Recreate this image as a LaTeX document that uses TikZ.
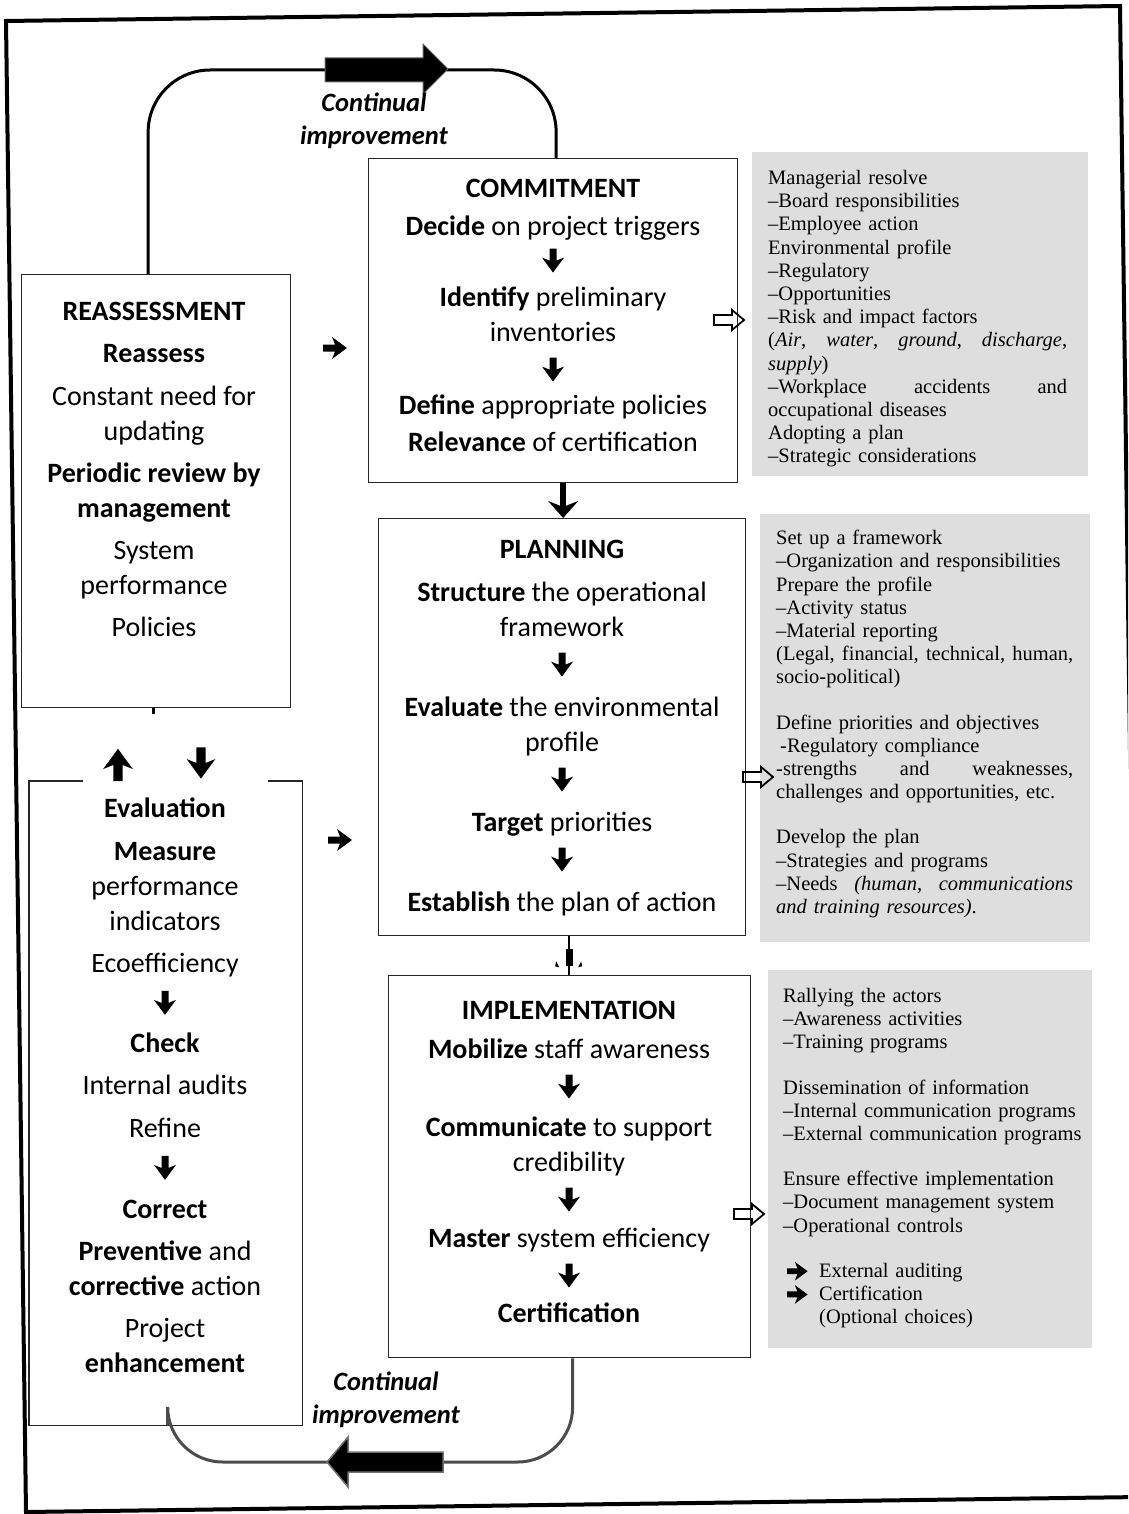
\documentclass[tikz,border=0pt]{standalone}
\usepackage{fontspec}
\usepackage{graphicx}
\setmainfont{Carlito}
\newfontfamily\greyfont{Liberation Serif}
\usetikzlibrary{calc,arrows.meta}
\setlength{\parindent}{0pt}

\tikzset{
  % heavy arrow glyphs, coordinates in pt with y pointing down
  downarrow/.pic={\fill (-3.5,-12) -- (-3.5,0) -- (-11,-3) -- (0,12) -- (11,-3) -- (3.5,0) -- (3.5,-12) -- cycle;},
  uparrow/.pic={\fill (-3.5,12) -- (-3.5,0) -- (-11,3) -- (0,-12) -- (11,3) -- (3.5,0) -- (3.5,12) -- cycle;},
  rightarrow/.pic={\fill (-12,-3.5) -- (0,-3.5) -- (-3,-11) -- (12,0) -- (-3,11) -- (0,3.5) -- (-12,3.5) -- cycle;},
  hollowarrow/.pic={\draw[line width=1.8pt, line join=miter] (-15,-5) -- (3,-5) -- (3,-10) -- (15,0) -- (3,10) -- (3,5) -- (-15,5) -- cycle;},
}

% small down arrow used inside the stage boxes
\newcommand\dn{\tikz[x=1pt,y=-1pt,baseline={(0,7)}]\pic{downarrow};}
% arrow bullet used in the implementation notes
\newcommand\bul{\makebox[36pt][l]{\hspace{4pt}\tikz[x=1pt,y=-1pt,baseline={(0,6)}]\pic[scale=0.85]{rightarrow};}}
% a fully justified single line of the given width (words separated by \hfill)
\newcommand\jline[2]{\makebox[#1][s]{#2}}

\begin{document}
\begin{tikzpicture}[x=1pt,y=-1pt,
  box/.style={draw=black!85, line width=1.3pt, inner sep=0, anchor=north west},
  boxline/.style={draw=black!85, line width=1.3pt},
  txt/.style={font=\fontsize{28}{35}\selectfont, align=center, inner sep=0, anchor=north},
  greybox/.style={fill=black!13, draw=none, inner sep=0, anchor=north west},
  gtxt/.style={font=\greyfont\fontsize{20.5}{23.2}\selectfont, align=left, inner sep=0, anchor=north west},
  looptxt/.style={font=\fontsize{26.5}{33}\selectfont\bfseries\itshape, align=center, inner sep=0},
  loopline/.style={line width=3pt},
]
\useasboundingbox (0,0) rectangle (1128,1514);
\fill[white] (0,0) rectangle (1128,1514);

% outer frame
\begin{scope}
  \clip (0,0) rectangle (1128,1514);
  \draw[line width=4pt, line join=miter] (6,21) -- (1120,6) -- (1140,1497) -- (26,1512) -- cycle;
\end{scope}

% grey note panels
\node[greybox, minimum width=336, minimum height=324] (g1) at (752,152) {};
\node[greybox, minimum width=330, minimum height=428] (g2) at (760,514) {};
\node[greybox, minimum width=324, minimum height=378] (g3) at (768,970) {};

\node[gtxt, text width=299] (g1t) at (768,170) {Managerial resolve\\
–Board responsibilities\\
–Employee action\\
Environmental profile\\
–Regulatory\\
–Opportunities\\
–Risk and impact factors\\
\jline{299pt}{(\textit{Air},\hfill\textit{water},\hfill\textit{ground},\hfill\textit{discharge},}\\
\textit{supply})\\
\jline{299pt}{–Workplace\hfill accidents\hfill and}\\
occupational diseases\\
Adopting a plan\\
–Strategic considerations};

\node[gtxt, text width=297] (g2t) at (776,530) {Set up a framework\\
–Organization and responsibilities\\
Prepare the profile\\
–Activity status\\
–Material reporting\\
\jline{297pt}{(Legal,\hfill financial,\hfill technical,\hfill human,}\\
socio-political)\\[22pt]
Define priorities and objectives\\
\hspace*{4pt}-Regulatory compliance\\
\jline{297pt}{-strengths\hfill and\hfill weaknesses,}\\
challenges and opportunities, etc.\\[22pt]
Develop the plan\\
–Strategies and programs\\
\jline{297pt}{–Needs\hfill\textit{(human,}\hfill\textit{communications}}\\
\textit{and training resources)}.};

\node[gtxt, text width=300] (g3t) at (783,988) {Rallying the actors\\
–Awareness activities\\
–Training programs\\[22pt]
Dissemination of information\\
–Internal communication programs\\
–External communication programs\\[22pt]
Ensure effective implementation\\
–Document management system\\
–Operational controls\\[22pt]
\bul External auditing\\
\bul Certification\\
\hspace*{36pt}(Optional choices)};

% stage boxes
\node[box, minimum width=369, minimum height=324] (commit) at (368,158) {};
\node[box, minimum width=367, minimum height=417] (plan) at (378,518) {};
\node[box, minimum width=362, minimum height=382] (impl) at (388,975) {};
\node[box, minimum width=269, minimum height=433] (reass) at (21,274) {};
\node[inner sep=0, anchor=north west, minimum width=273, minimum height=644] (evalbox) at (29,781) {};
\draw[boxline] ($(evalbox.north west)+(54,0)$) -- (evalbox.north west) -- (evalbox.south west)
  -- (evalbox.south east) -- (evalbox.north east) -- ++(-34,0);

\node[txt] (commitT) at (553,179) {\textbf{COMMITMENT}\\[3pt]
\textbf{Decide} on project triggers\\[-3pt]
\dn\\[4pt]
\textbf{Identify} preliminary\\
inventories\\
\dn\\[3pt]
\textbf{Define} appropriate policies\\[2pt]
\textbf{Relevance} of certification};

\node[txt] (planT) at (562,540) {\textbf{PLANNING}\\[8pt]
\textbf{Structure} the operational\\
framework\\
\dn\\[10pt]
\textbf{Evaluate} the environmental\\
profile\\
\dn\\[10pt]
\textbf{Target} priorities\\
\dn\\[10pt]
\textbf{Establish} the plan of action};

\node[txt] (implT) at (569,1001) {\textbf{IMPLEMENTATION}\\[4pt]
\textbf{Mobilize} staff awareness\\
\dn\\[8pt]
\textbf{Communicate} to support\\
credibility\\
\dn\\[6pt]
\textbf{Master} system efficiency\\
\dn\\[5pt]
\textbf{Certification}};

\node[txt] (reassT) at (154,302) {\textbf{REASSESSMENT}\\[7pt]
\textbf{Reassess}\\[8pt]
Constant need for\\
updating\\[7pt]
\textbf{Periodic review by}\\
\textbf{management}\\[7pt]
System\\
performance\\[7pt]
Policies};

\node[txt] (evalT) at (165,798) {\textbf{Evaluation}\\[8pt]
\textbf{Measure}\\
performance\\
indicators\\[7pt]
Ecoefficiency\\[2pt]
\dn\\[8pt]
\textbf{Check}\\[7pt]
Internal audits\\[8pt]
Refine\\[2pt]
\dn\\[9pt]
\textbf{Correct}\\[7pt]
\textbf{Preventive} and\\
\textbf{corrective} action\\[7pt]
Project\\
\textbf{enhancement}};

% links between consecutive stages
\draw[line width=6pt, -{Stealth[length=17pt,width=30pt,inset=6pt]}]
  ($(commit.south)+(10,0)$) -- ($(plan.north)+(1,0)$);
\draw[line width=2.2pt] ($(plan.south)+(6.5,0)$) -- ($(impl.north)+(-1,0)$);
\fill ($(plan.south)+(4,13)$) rectangle ($(plan.south)+(11,30)$);
\fill ($(plan.south)+(-6,25)$) -- ($(plan.south)+(-3,31)$) -- ($(plan.south)+(-7,30)$) -- cycle;
\fill ($(plan.south)+(19,25)$) -- ($(plan.south)+(16,31)$) -- ($(plan.south)+(20,30)$) -- cycle;
\draw[line width=3pt] ($(reass.south)+(-3,0)$) -- ++(0,6);

% arrows between the left column and the stages
\pic at (335,348) {rightarrow};
\pic at (340,840) {rightarrow};
\pic[scale=1.35] at (118,765) {uparrow};
\pic[scale=1.3] at (201,763) {downarrow};

% arrows towards the notes
\pic at (729,320) {hollowarrow};
\pic at (758,777) {hollowarrow};
\pic at (749,1214) {hollowarrow};

% continual improvement loops
\coordinate (topA) at (386,70);
\coordinate (botA) at (385,1462);
\draw[loopline, rounded corners=62] ($(reass.north)+(-8,0)$) |- (topA) -| ($(commit.north)+(3,0)$);
\draw[loopline, draw=black!70, rounded corners=55] ($(impl.south)+(3,0)$) |- (botA) -| ($(evalbox.south)+(2,0)$);

\fill[shift={(topA)}, draw=black!60, line width=1pt]
  (-61,-12) -- (37,-12) -- (37,-26) -- (62,-1) -- (37,24) -- (37,12) -- (-61,12) -- cycle;
\fill[shift={(botA)}, draw=black!55, line width=1.5pt]
  (58,-10) -- (-37,-10) -- (-37,-25) -- (-58,0) -- (-37,25) -- (-37,10) -- (58,10) -- cycle;

\node[looptxt] (topL) at (374,121) {Continual\\improvement};
\node[looptxt] (botL) at (386,1400) {Continual\\improvement};
\end{tikzpicture}
\end{document}
